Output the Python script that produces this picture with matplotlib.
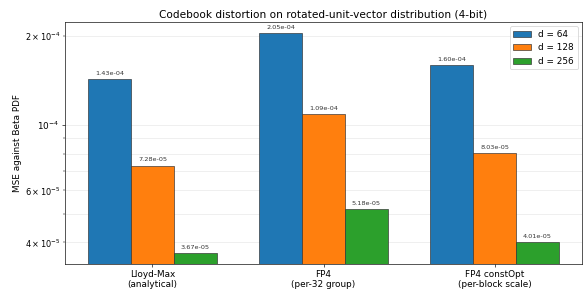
import numpy as np
import matplotlib
matplotlib.use("Agg")
import matplotlib.pyplot as plt

# =========================
# Dados
# =========================
metodos = ["Lloyd-Max\n(analytical)", "FP4\n(per-32 group)", "FP4 constOpt\n(per-block scale)"]
dims = ["d = 64", "d = 128", "d = 256"]
mse_d64 = [1.43e-4, 2.05e-4, 1.60e-4]
mse_d128 = [7.28e-5, 1.09e-4, 8.03e-5]
mse_d256 = [3.67e-5, 5.18e-5, 4.01e-5]

series = [mse_d64, mse_d128, mse_d256]
cores = ["#1f77b4", "#ff7f0e", "#2ca02c"]

# =========================
# Grafico
# =========================
fig, ax = plt.subplots(figsize=(10, 4.949), dpi=58.4)
fig.subplots_adjust(left=0.111, right=0.997, bottom=0.086, top=0.924)

x = np.arange(len(metodos))
largura = 0.25

for i, (vals, nome, cor) in enumerate(zip(series, dims, cores)):
    barras = ax.bar(x + (i - 1) * largura, vals, largura, label=nome, color=cor,
                    edgecolor="#333333", linewidth=0.8)
    for b, v in zip(barras, vals):
        ax.annotate(f"{v:.2e}", (b.get_x() + b.get_width() / 2, v),
                    xytext=(0, 4), textcoords="offset points",
                    ha="center", va="bottom", fontsize=8, color="#333333")

ax.set_yscale("log")
todos = mse_d64 + mse_d128 + mse_d256
ax.set_ylim(min(todos) * 0.92, max(todos) * 1.09)
ax.set_xticks(x)
ax.set_xticklabels(metodos, fontsize=11)
ax.tick_params(axis="y", labelsize=11)
ax.set_ylabel("MSE against Beta PDF", fontsize=11)
ax.set_title("Codebook distortion on rotated-unit-vector distribution (4-bit)", fontsize=13)
ax.grid(True, which="both", axis="y", alpha=0.3)
ax.set_axisbelow(True)
ax.legend(fontsize=11, loc="upper right")

plt.savefig("out.png")
